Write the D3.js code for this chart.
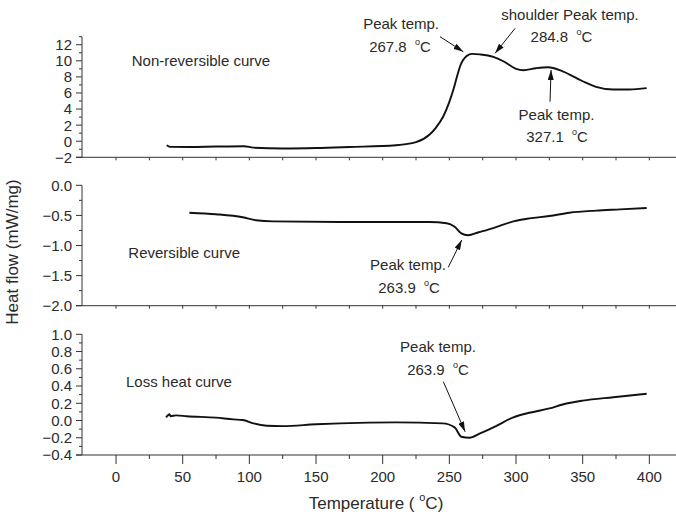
<!DOCTYPE html>
<html>
<head>
<meta charset="utf-8">
<script src="https://cdn.jsdelivr.net/npm/d3@7"></script>
<style>
  body { margin: 0; background: #fff; }
  text { font-family: "Liberation Sans", Arial, sans-serif; fill: #2a2a2a; white-space: pre; }
</style>
</head>
<body>
<div id="chart"></div>
<script>
// Temperature axis
const tempTicks = [0, 50, 100, 150, 200, 250, 300, 350, 400];

// Curves as [temperature °C, heat flow mW/mg]
const nonReversible = [
  [38, -0.5], [40.5, -0.7], [55, -0.72], [75, -0.66], [96, -0.62], [103, -0.8],
  [125, -0.9], [150, -0.85], [175, -0.72], [210, -0.5], [225, -0.12], [235, 0.8],
  [240, 1.7], [245.5, 3.1], [250, 4.9], [253, 6.4], [256, 8.2], [258, 9.3],
  [263, 10.6], [267, 10.87], [273, 10.8], [283, 10.5], [290.5, 9.95], [300, 9.0],
  [305.5, 8.83], [315, 9.08], [324, 9.2], [335, 8.7], [350, 7.46], [360, 6.77],
  [373, 6.43], [385, 6.43], [398, 6.6]
];
const reversible = [
  [55, -0.455], [75, -0.48], [95, -0.53], [105, -0.58], [118, -0.6], [168, -0.61],
  [235, -0.61], [248, -0.63], [254, -0.69], [259, -0.8], [264, -0.83], [272, -0.78],
  [283, -0.71], [298, -0.6], [310, -0.55], [325, -0.51], [340, -0.455], [360, -0.42],
  [378, -0.4], [398, -0.377]
];
const lossHeat = [
  [37.5, 0.037], [39, 0.06], [40, 0.072], [41, 0.05], [45, 0.06], [53, 0.05],
  [75, 0.033], [88, 0.013], [95, 0.006], [103, -0.033], [113, -0.06], [125, -0.065],
  [150, -0.044], [168, -0.033], [210, -0.022], [245, -0.033], [254, -0.08],
  [259, -0.188], [265, -0.2], [273, -0.15], [285, -0.064], [298, 0.037], [310, 0.09],
  [325, 0.14], [335, 0.186], [350, 0.23], [373, 0.27], [398, 0.31]
];

// Y ticks per panel
const topTicks = [-2, 0, 2, 4, 6, 8, 10, 12];
const midTicks = [-2.0, -1.5, -1.0, -0.5, 0.0];
const botTicks = [-0.4, -0.2, 0.0, 0.2, 0.4, 0.6, 0.8, 1.0];

// Annotations (data coordinates)
const topNotes = [
  { text: "Non-reversible curve", t: 11.8, v: 9.35, anchor: "start" },
  { text: "Peak temp.", t: 213.8, v: 14.0 },
  { text: "267.8", deg: true, t: 213, v: 11.1 },
  { text: "shoulder Peak temp.", t: 340.5, v: 15.07 },
  { text: "284.8", deg: true, t: 334.1, v: 12.34 },
  { text: "Peak temp.", t: 330.4, v: 2.64 },
  { text: "327.1", deg: true, t: 330.8, v: -0.1 }
];
const topArrows = [
  { t0: 243, v0: 13.0, t1: 260.5, v1: 11.13 },
  { t0: 299.3, v0: 14.04, t1: 284.3, v1: 10.93 },
  { t0: 325.5, v0: 4.91, t1: 326.3, v1: 8.86 }
];
const midNotes = [
  { text: "Reversible curve", t: 9.2, v: -1.208, anchor: "start" },
  { text: "Peak temp.", t: 219, v: -1.407 },
  { text: "263.9", deg: true, t: 219.8, v: -1.789 }
];
const midArrows = [{ t0: 249.2, v0: -1.362, t1: 259.3, v1: -0.909 }];
const botNotes = [
  { text: "Loss heat curve", t: 7.5, v: 0.389, anchor: "start" },
  { text: "Peak temp.", t: 241.5, v: 0.789 },
  { text: "263.9", deg: true, t: 241.5, v: 0.528 }
];
const botArrows = [{ t0: 245.5, v0: 0.45, t1: 261.8, v1: -0.13 }];

const width = 676, height = 515;
const axisX = 82;

const svg = d3.select("#chart").append("svg")
  .attr("width", width).attr("height", height);

svg.append("defs").append("marker")
  .attr("id", "head")
  .attr("viewBox", "0 0 10 6")
  .attr("refX", 10).attr("refY", 3)
  .attr("markerWidth", 10).attr("markerHeight", 6)
  .attr("markerUnits", "userSpaceOnUse")
  .attr("orient", "auto")
  .append("path")
  .attr("d", "M0,0 L10,3 L0,6 Z")
  .attr("fill", "#111");

const x = d3.scaleLinear().domain([-25, 420]).range([82.7, 676]);

const panels = [
  { data: nonReversible, domain: [-2, 13], range: [157.3, 36.7], ticks: topTicks,
    minor: d3.range(-1, 14, 2), fmt: d3.format("d"), notes: topNotes, arrows: topArrows },
  { data: reversible, domain: [-2, 0], range: [305.7, 185.3], ticks: midTicks,
    minor: d3.range(-1.75, 0, 0.5), fmt: d3.format(".1f"), notes: midNotes, arrows: midArrows },
  { data: lossHeat, domain: [-0.4, 1.0], range: [455, 334.3], ticks: botTicks,
    minor: d3.range(-0.3, 1.0, 0.2), fmt: d3.format(".1f"), notes: botNotes, arrows: botArrows, last: true }
];

// degree sign drawn as a raised small "o", as in the original figure
function withDegree(t, value, size, lift) {
  t.append("tspan").text(value);
  t.append("tspan").attr("font-size", size).attr("dy", -lift).text("o");
  t.append("tspan").attr("dy", lift).text("C");
}

panels.forEach(p => {
  const y = d3.scaleLinear().domain(p.domain).range(p.range);
  const g = svg.append("g");
  const y0 = p.range[0];

  // axis lines
  g.append("line").attr("x1", axisX).attr("x2", axisX)
    .attr("y1", p.range[1]).attr("y2", y0)
    .attr("stroke", "#333").attr("stroke-width", 1);
  g.append("line").attr("x1", axisX - 6).attr("x2", width)
    .attr("y1", y0).attr("y2", y0)
    .attr("stroke", "#333").attr("stroke-width", 1);

  // y ticks
  g.selectAll(".ymaj").data(p.ticks).join("line")
    .attr("x1", axisX - 6).attr("x2", axisX)
    .attr("y1", d => y(d)).attr("y2", d => y(d))
    .attr("stroke", "#333");
  g.selectAll(".ymin").data(p.minor).join("line")
    .attr("x1", axisX - 3).attr("x2", axisX)
    .attr("y1", d => y(d)).attr("y2", d => y(d))
    .attr("stroke", "#333");
  g.selectAll(".ylab").data(p.ticks).join("text")
    .attr("x", axisX - 10).attr("y", d => y(d))
    .attr("dy", "0.36em")
    .attr("text-anchor", "end")
    .attr("font-size", 15)
    .text(d => p.fmt(d));

  // x ticks
  const xt = d3.range(0, 425, 25);
  if (p.last) {
    g.selectAll(".xt").data(xt).join("line")
      .attr("x1", d => x(d)).attr("x2", d => x(d))
      .attr("y1", y0).attr("y2", d => y0 + (d % 50 === 0 ? 9 : 4))
      .attr("stroke", "#333");
    g.selectAll(".xlab").data(tempTicks).join("text")
      .attr("x", d => x(d)).attr("y", 482)
      .attr("text-anchor", "middle")
      .attr("font-size", 15)
      .text(d => d);
  } else {
    g.selectAll(".xt").data(xt).join("line")
      .attr("x1", d => x(d)).attr("x2", d => x(d))
      .attr("y1", y0).attr("y2", y0 + 3)
      .attr("stroke", "#333");
  }

  // curve
  g.append("path")
    .datum(p.data)
    .attr("fill", "none")
    .attr("stroke", "#111")
    .attr("stroke-width", 1.9)
    .attr("stroke-linejoin", "round")
    .attr("d", d3.line().x(d => x(d[0])).y(d => y(d[1])).curve(d3.curveMonotoneX));

  // annotations
  p.notes.forEach(n => {
    const t = g.append("text")
      .attr("x", x(n.t)).attr("y", y(n.v))
      .attr("text-anchor", n.anchor || "middle")
      .attr("font-size", 15);
    if (n.deg) withDegree(t, n.text + "  ", 9, 7);
    else t.text(n.text);
  });
  g.selectAll(".arrow").data(p.arrows).join("line")
    .attr("x1", d => x(d.t0)).attr("y1", d => y(d.v0))
    .attr("x2", d => x(d.t1)).attr("y2", d => y(d.v1))
    .attr("stroke", "#111").attr("stroke-width", 1)
    .attr("marker-end", "url(#head)");
});

// axis titles
const xTitle = svg.append("text")
  .attr("x", 376).attr("y", 509)
  .attr("text-anchor", "middle")
  .attr("font-size", 17);
withDegree(xTitle, "Temperature ( ", 11, 8);
xTitle.append("tspan").text(")");

svg.append("text")
  .attr("transform", "translate(18,252) rotate(-90)")
  .attr("text-anchor", "middle")
  .attr("font-size", 17)
  .text("Heat flow (mW/mg)");
</script>
</body>
</html>
